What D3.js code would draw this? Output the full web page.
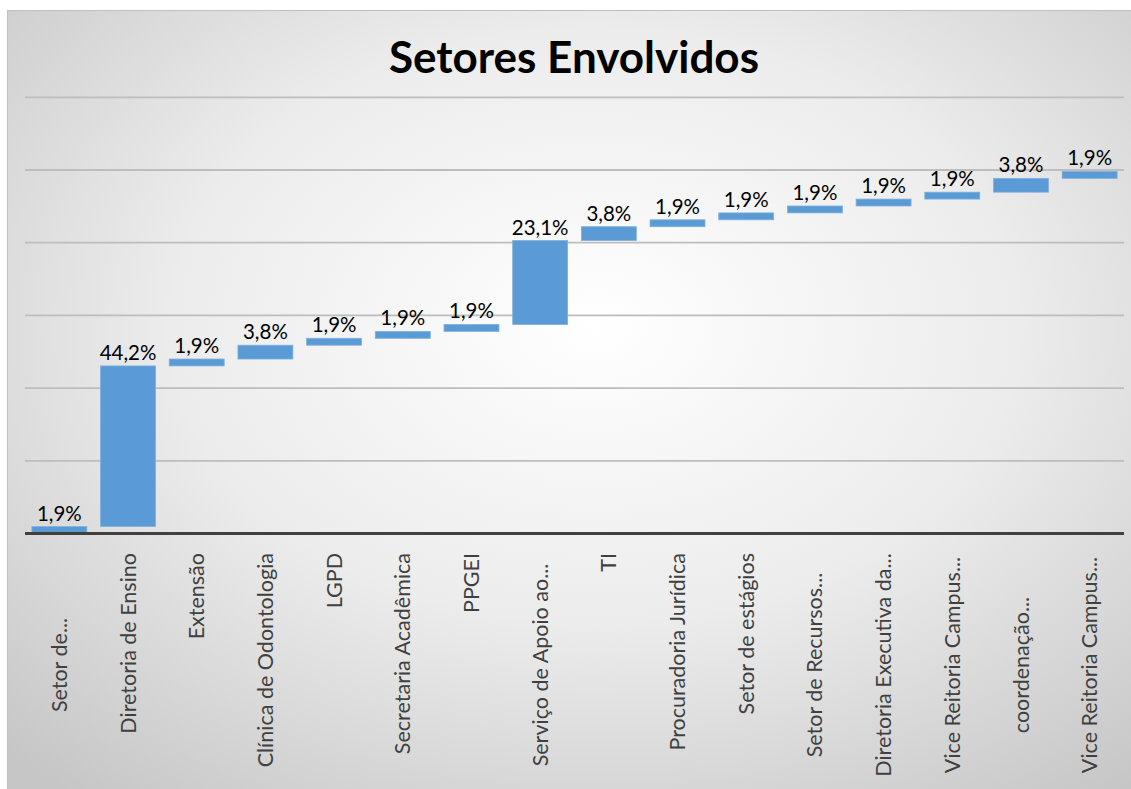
<!DOCTYPE html>
<html>
<head>
<meta charset="utf-8">
<script src="https://cdn.jsdelivr.net/npm/d3@7"></script>
<style>
  body { margin: 0; background: #fff; }
  svg { display: block; }
</style>
</head>
<body>
<svg id="chart" width="1131" height="789"></svg>
<script>
// categories (as shown on the axis, truncated like the original)
const categories = [
  'Setor de...', 'Diretoria de Ensino', 'Extensão', 'Clínica de Odontologia',
  'LGPD', 'Secretaria Acadêmica', 'PPGEI', 'Serviço de Apoio ao...',
  'TI', 'Procuradoria Jurídica', 'Setor de estágios', 'Setor de Recursos...',
  'Diretoria Executiva da...', 'Vice Reitoria Campus...', 'coordenação...', 'Vice Reitoria Campus...'
]
// share of each sector, in percent
const values = [1.9, 44.2, 1.9, 3.8, 1.9, 1.9, 1.9, 23.1, 3.8, 1.9, 1.9, 1.9, 1.9, 1.9, 3.8, 1.9]
// hidden value axis gridlines
const gridTicks = [20, 40, 60, 80, 100, 120]

const fontFamily = 'Lato, "Open Sans", sans-serif'
const svg = d3.select('#chart')

// background with soft radial shading
const defs = svg.append('defs')
const grad = defs.append('radialGradient')
  .attr('id', 'bg')
  .attr('cx', '52%').attr('cy', '40%').attr('r', '75%')
grad.append('stop').attr('offset', '0%').attr('stop-color', '#ffffff')
grad.append('stop').attr('offset', '50%').attr('stop-color', '#ececec')
grad.append('stop').attr('offset', '100%').attr('stop-color', '#c6c6c6')

svg.append('rect')
  .attr('x', 7.5).attr('y', 10.5)
  .attr('width', 1130).attr('height', 790)
  .attr('fill', 'url(#bg)')
  .attr('stroke', '#bfbfbf')
  .attr('stroke-width', 1)

// title
svg.append('text')
  .attr('x', 574)
  .attr('y', 73)
  .attr('text-anchor', 'middle')
  .attr('font-family', fontFamily)
  .attr('font-weight', 'bold')
  .attr('font-size', 44)
  .attr('fill', '#000')
  .text('Setores Envolvidos')

// waterfall: each bar starts where the previous one ended
let running = 0
const steps = values.map((v, i) => {
  const d = {name: categories[i], idx: i, start: running, end: running + v, value: v}
  running += v
  return d
})

const x = d3.scaleBand()
  .domain(d3.range(categories.length))
  .range([25, 1124])
  .paddingInner(0.2)
  .paddingOuter(0.1)

const y = d3.scaleLinear()
  .domain([0, 120])
  .range([533.5, 97.3])

// gridlines
svg.append('g')
  .selectAll('line')
  .data(gridTicks)
  .enter()
  .append('line')
  .attr('x1', 25)
  .attr('x2', 1124)
  .attr('y1', d => y(d))
  .attr('y2', d => y(d))
  .attr('stroke', '#bdbdbd')
  .attr('stroke-width', 1.8)

// bars
svg.append('g')
  .selectAll('rect')
  .data(steps)
  .enter()
  .append('rect')
  .attr('x', d => x(d.idx))
  .attr('y', d => y(d.end))
  .attr('width', x.bandwidth())
  .attr('height', d => y(d.start) - y(d.end))
  .attr('fill', '#5b9bd5')
  .attr('stroke', '#7fb0de')
  .attr('stroke-width', 0.8)

// value labels
svg.append('g')
  .selectAll('text')
  .data(steps)
  .enter()
  .append('text')
  .attr('x', d => x(d.idx) + x.bandwidth() / 2)
  .attr('y', d => y(d.end) - 6)
  .attr('text-anchor', 'middle')
  .attr('font-family', fontFamily)
  .attr('font-size', 20.5)
  .attr('fill', '#000')
  .text(d => d.value.toFixed(1).replace('.', ',') + '%')

// axis line
svg.append('line')
  .attr('x1', 25)
  .attr('x2', 1124)
  .attr('y1', y(0))
  .attr('y2', y(0))
  .attr('stroke', '#404040')
  .attr('stroke-width', 3)

// category labels, rotated; truncated ones sit centred in the label band
const labelTop = 553
const labelMid = 665
svg.append('g')
  .selectAll('text')
  .data(steps)
  .enter()
  .append('text')
  .attr('transform', d => {
    const cx = x(d.idx) + x.bandwidth() / 2
    const cy = d.name.endsWith('...') ? labelMid : labelTop
    return 'translate(' + cx + ',' + cy + ') rotate(-90)'
  })
  .attr('text-anchor', d => d.name.endsWith('...') ? 'middle' : 'end')
  .attr('dy', '0.35em')
  .attr('font-family', fontFamily)
  .attr('font-size', 21.5)
  .attr('fill', '#404040')
  .text(d => d.name)
</script>
</body>
</html>
